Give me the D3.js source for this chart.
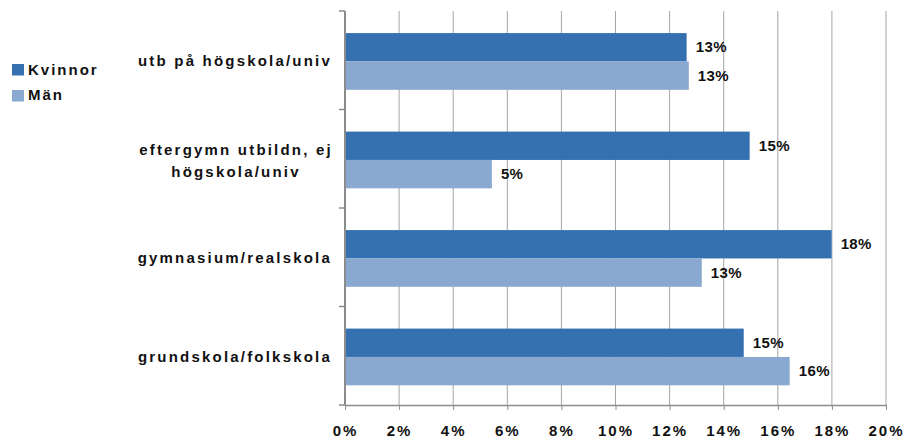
<!DOCTYPE html>
<html><head><meta charset="utf-8">
<script src="https://cdn.jsdelivr.net/npm/d3@7"></script>
<style>
body{margin:0;background:#fff;}
text{font-family:"Liberation Sans",Arial,sans-serif;font-weight:bold;fill:#111;}
</style></head>
<body><svg id="c" width="906" height="439"></svg>
<script>
const categories = [["utb på högskola/univ"], ["eftergymn utbildn, ej", "högskola/univ"], ["gymnasium/realskola"], ["grundskola/folkskola"]];
const seriesNames = ["Kvinnor", "Män"];
const kvinnor = [12.63, 14.96, 17.99, 14.74];
const man = [12.71, 5.43, 13.19, 16.44];
const labelsK = ["13%", "15%", "18%", "15%"];
const labelsM = ["13%", "5%", "13%", "16%"];
const xTicks = [0, 2, 4, 6, 8, 10, 12, 14, 16, 18, 20];
const colors = ["#3571B0", "#8AA9D1"];

const svg = d3.select("#c");
const L = 345, R = 886, T = 11, B = 405;
const x = d3.scaleLinear().domain([0, 20]).range([L, R]);
const y = d3.scaleBand().domain(d3.range(categories.length)).range([T + 1.2, B + 1.2]).paddingInner(0.424).paddingOuter(0.212);
const sub = d3.scaleBand().domain([0, 1]).range([0, y.bandwidth()]);

// gridlines
svg.append("g").selectAll("line").data(xTicks.slice(1)).join("line")
  .attr("x1", d => x(d)).attr("x2", d => x(d)).attr("y1", T).attr("y2", B)
  .attr("stroke", "#A6A6A6").attr("stroke-width", 1);

// bars
const series = [kvinnor, man];
const labels = [labelsK, labelsM];
series.forEach((vals, si) => {
  svg.append("g").selectAll("rect").data(vals).join("rect")
    .attr("x", x(0)).attr("y", (d, i) => y(i) + sub(si))
    .attr("width", d => x(d) - x(0)).attr("height", sub.bandwidth())
    .attr("fill", colors[si]);
  svg.append("g").selectAll("text").data(vals).join("text")
    .attr("x", d => x(d) + 9).attr("y", (d, i) => y(i) + sub(si) + sub.bandwidth() / 2 + 5)
    .attr("font-size", 15).attr("letter-spacing", "0.4px")
    .text((d, i) => labels[si][i]);
});

// bottom axis
const xAxis = d3.axisBottom(x).tickValues(xTicks).tickFormat(d => d + "%").tickSize(5).tickSizeOuter(0);
const gx = svg.append("g").attr("transform", `translate(0,${B})`).call(xAxis);
gx.select(".domain").attr("stroke", "#8C8C8C").attr("stroke-width", 1.5);
gx.selectAll(".tick line").attr("stroke", "#8C8C8C");
gx.selectAll(".tick text").attr("font-size", 15).attr("dy", 0).attr("y", 31)
  .attr("letter-spacing", "2px").attr("fill", "#111")
  .style("font-family", "'Liberation Sans',Arial,sans-serif").style("font-weight", "bold");

// left axis line and ticks
const yTickPos = d3.range(categories.length + 1).map(i => T + i * (B - T) / categories.length);
svg.append("line").attr("x1", L).attr("x2", L).attr("y1", T).attr("y2", B)
  .attr("stroke", "#8C8C8C").attr("stroke-width", 2);
svg.append("g").selectAll("line").data(yTickPos).join("line")
  .attr("x1", L - 6).attr("x2", L).attr("y1", d => d).attr("y2", d => d)
  .attr("stroke", "#8C8C8C").attr("stroke-width", 1.5);

// category labels
categories.forEach((lines, i) => {
  const cy = y(i) + y.bandwidth() / 2;
  if (lines.length === 1) {
    svg.append("text").attr("x", 332).attr("y", cy + 5).attr("text-anchor", "end")
      .attr("font-size", 15).attr("letter-spacing", "2.2px").text(lines[0]);
  } else {
    const t = svg.append("text").attr("font-size", 15).attr("letter-spacing", "2.2px").attr("text-anchor", "middle");
    lines.forEach((ln, j) => {
      t.append("tspan").attr("x", 236).attr("y", cy - 5 + j * 22).text(ln);
    });
  }
});

// legend
seriesNames.forEach((n, i) => {
  svg.append("rect").attr("x", 12).attr("y", 64 + i * 26).attr("width", 12).attr("height", 11.5).attr("fill", colors[i]);
  svg.append("text").attr("x", 28).attr("y", 75 + i * 25).attr("font-size", 15)
    .attr("letter-spacing", "2px").text(n);
});
</script></body></html>
